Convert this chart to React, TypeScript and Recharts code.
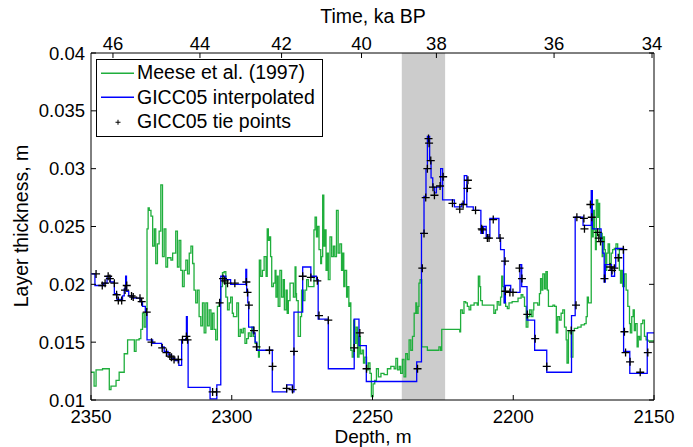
import { ComposedChart, Line, Scatter, XAxis, YAxis, ReferenceArea } from "recharts";

const DEPTH_TICKS = [2350, 2300, 2250, 2200, 2150];
const THICK_TICKS = [0.01, 0.015, 0.02, 0.025, 0.03, 0.035, 0.04];
const AGE_LABELS = ["46", "44", "42", "40", "38", "36", "34"];
const AGE_DEPTHS = [2342.2, 2311.3, 2282.3, 2253.9, 2227.3, 2185.5, 2150.7];
const SHADED_DEPTHS = [2239.6, 2224.2];

// [depth m, layer thickness m]
const MEESE: [number, number][] = [
  [2350.0, 0.0124], [2348.9, 0.0112], [2348.2, 0.0126], [2346.5, 0.0126], [2345.9, 0.0127], [2344.1, 0.0127],
  [2343.5, 0.0109], [2342.9, 0.0112], [2341.1, 0.0117], [2340.0, 0.0124], [2338.8, 0.0124], [2338.2, 0.014],
  [2337.0, 0.0152], [2335.2, 0.0152], [2334.6, 0.0142], [2334.0, 0.0152], [2332.9, 0.0153], [2332.3, 0.0161],
  [2331.7, 0.0175], [2331.1, 0.0163], [2330.5, 0.0178], [2330.1, 0.0248], [2329.7, 0.0266], [2329.3, 0.0264],
  [2328.7, 0.0259], [2328.1, 0.0233], [2327.5, 0.0248], [2327.0, 0.0218], [2326.4, 0.0235], [2325.8, 0.0246],
  [2325.2, 0.0286], [2324.6, 0.0224], [2324.0, 0.0248], [2323.4, 0.0215], [2322.8, 0.0223], [2321.6, 0.0221],
  [2321.0, 0.0227], [2319.9, 0.0246], [2319.3, 0.0215], [2318.7, 0.0238], [2318.1, 0.0212], [2317.5, 0.0198],
  [2316.9, 0.0212], [2316.3, 0.0221], [2315.7, 0.0209], [2315.1, 0.0227], [2314.5, 0.0233], [2313.9, 0.0218],
  [2313.4, 0.0195], [2312.8, 0.0184], [2312.2, 0.0195], [2311.6, 0.0172], [2311.0, 0.0164], [2310.4, 0.0184],
  [2309.8, 0.0158], [2309.2, 0.0184], [2308.6, 0.0164], [2308.0, 0.0178], [2307.4, 0.0161], [2306.9, 0.0175],
  [2306.3, 0.0161], [2305.7, 0.0152], [2305.1, 0.0181], [2304.5, 0.0184], [2303.9, 0.0198], [2303.3, 0.021],
  [2302.7, 0.0211], [2302.1, 0.0189], [2301.5, 0.0178], [2300.9, 0.0184], [2300.4, 0.0189], [2299.8, 0.0175],
  [2299.4, 0.0172], [2298.2, 0.0184], [2297.6, 0.0155], [2297.0, 0.0161], [2296.5, 0.0158], [2295.9, 0.0162],
  [2295.3, 0.0149], [2294.7, 0.0153], [2294.1, 0.0158], [2293.5, 0.0155], [2292.9, 0.0163], [2292.3, 0.0155],
  [2291.7, 0.0149], [2291.1, 0.0143], [2290.5, 0.0137], [2290.2, 0.0221], [2289.7, 0.0207], [2289.1, 0.0212],
  [2288.5, 0.0224], [2287.8, 0.0207], [2287.4, 0.0248], [2287.0, 0.0238], [2286.6, 0.0241], [2286.2, 0.0224],
  [2285.8, 0.0198], [2285.2, 0.0201], [2284.6, 0.0212], [2284.3, 0.0189], [2283.8, 0.0207], [2283.5, 0.0181],
  [2282.9, 0.0212], [2282.3, 0.0189], [2281.7, 0.0204], [2281.3, 0.0178], [2280.7, 0.0195], [2280.3, 0.0175],
  [2279.9, 0.0186], [2279.3, 0.0201], [2278.7, 0.0201], [2278.1, 0.0189], [2277.5, 0.0215], [2277.2, 0.0192],
  [2277.0, 0.0186], [2276.4, 0.0155], [2276.0, 0.0155], [2275.6, 0.0172], [2275.2, 0.0195], [2274.6, 0.0186],
  [2274.0, 0.0195], [2273.4, 0.0204], [2272.8, 0.0198], [2271.6, 0.0198], [2270.8, 0.0247], [2270.4, 0.0258],
  [2269.9, 0.0241], [2269.5, 0.025], [2269.0, 0.023], [2268.4, 0.0218], [2268.1, 0.0224], [2267.7, 0.0277],
  [2267.3, 0.0233], [2266.9, 0.0247], [2266.5, 0.0212], [2266.1, 0.0227], [2265.7, 0.0204], [2265.1, 0.0241],
  [2264.5, 0.0224], [2263.9, 0.0233], [2263.4, 0.0224], [2262.8, 0.0264], [2262.2, 0.0227], [2261.6, 0.0235],
  [2261.0, 0.0212], [2260.6, 0.0227], [2260.2, 0.0198], [2259.8, 0.0212], [2259.2, 0.0189], [2258.9, 0.0198],
  [2258.4, 0.0181], [2258.0, 0.0184], [2257.7, 0.0143], [2257.2, 0.0137], [2256.7, 0.0169], [2256.3, 0.0149],
  [2255.8, 0.0163], [2255.3, 0.0137], [2254.8, 0.0155], [2254.3, 0.014], [2253.7, 0.0143], [2253.2, 0.0132],
  [2252.7, 0.0137], [2252.1, 0.0126], [2251.5, 0.0132], [2250.9, 0.0123], [2250.4, 0.0103], [2249.8, 0.0114],
  [2249.2, 0.0117], [2248.6, 0.0127], [2247.9, 0.012], [2247.0, 0.0123], [2245.9, 0.0122], [2244.7, 0.0127],
  [2243.5, 0.0129], [2242.3, 0.0127], [2241.7, 0.0136], [2241.1, 0.0126], [2240.5, 0.0129], [2240.0, 0.0123],
  [2239.4, 0.0135], [2238.8, 0.012], [2238.2, 0.014], [2237.6, 0.0135], [2237.0, 0.0152], [2236.4, 0.0143],
  [2235.8, 0.0155], [2235.2, 0.0175], [2234.6, 0.0184], [2234.3, 0.0175], [2233.8, 0.0181], [2233.5, 0.0201],
  [2233.1, 0.0204], [2232.5, 0.0146], [2231.7, 0.0146], [2230.5, 0.0143], [2228.1, 0.0143], [2226.4, 0.0146],
  [2225.8, 0.0143], [2225.4, 0.0161], [2219.0, 0.0159], [2218.7, 0.0178], [2218.1, 0.0175], [2217.5, 0.0185],
  [2216.9, 0.0184], [2216.3, 0.0181], [2215.7, 0.0178], [2215.1, 0.0182], [2213.9, 0.0184], [2212.8, 0.0182],
  [2212.4, 0.0207], [2211.9, 0.0198], [2211.6, 0.0186], [2211.0, 0.0182], [2207.4, 0.0182], [2206.9, 0.0175],
  [2206.3, 0.0178], [2205.7, 0.0185], [2205.1, 0.0182], [2204.5, 0.0189], [2204.1, 0.0207], [2203.7, 0.0198],
  [2203.2, 0.0184], [2202.7, 0.0181], [2202.1, 0.0179], [2201.5, 0.0184], [2200.4, 0.0185], [2199.5, 0.0185],
  [2198.3, 0.0188], [2197.2, 0.0191], [2196.6, 0.0189], [2196.0, 0.0181], [2195.4, 0.0163], [2194.8, 0.0172],
  [2194.2, 0.0178], [2193.6, 0.0172], [2193.0, 0.0178], [2192.7, 0.0184], [2191.3, 0.0182], [2190.7, 0.0192],
  [2190.3, 0.0205], [2189.8, 0.0195], [2189.5, 0.0209], [2188.9, 0.0196], [2188.4, 0.0211], [2187.9, 0.0195],
  [2187.5, 0.0181], [2185.9, 0.0182], [2185.3, 0.0181], [2184.7, 0.0158], [2184.2, 0.0172], [2183.6, 0.0169],
  [2183.0, 0.0175], [2182.4, 0.0178], [2181.8, 0.0163], [2181.2, 0.0152], [2180.9, 0.0132], [2180.4, 0.016],
  [2179.8, 0.0158], [2179.4, 0.0137], [2178.8, 0.016], [2178.3, 0.0162], [2177.1, 0.0163], [2175.9, 0.0165],
  [2174.7, 0.0166], [2174.1, 0.0172], [2173.7, 0.0189], [2173.3, 0.0184], [2172.8, 0.0184], [2172.3, 0.025],
  [2172.0, 0.0241], [2171.6, 0.0264], [2171.2, 0.0247], [2170.8, 0.023], [2170.5, 0.0273], [2170.0, 0.0258],
  [2169.6, 0.027], [2169.3, 0.0241], [2168.8, 0.0244], [2168.4, 0.0224], [2168.1, 0.0241], [2167.6, 0.023],
  [2167.3, 0.0212], [2166.8, 0.0227], [2166.3, 0.0235], [2165.8, 0.0218], [2165.2, 0.0227], [2164.7, 0.023],
  [2164.1, 0.0231], [2163.5, 0.0235], [2162.9, 0.023], [2162.3, 0.0212], [2161.9, 0.0201], [2161.5, 0.0212],
  [2161.1, 0.0198], [2160.5, 0.0209], [2159.9, 0.0195], [2159.3, 0.0181], [2158.7, 0.0166], [2158.4, 0.0158],
  [2157.9, 0.0172], [2157.4, 0.0178], [2157.0, 0.016], [2156.6, 0.0166], [2156.0, 0.0146], [2155.6, 0.0155],
  [2155.1, 0.0152], [2154.6, 0.0166], [2154.0, 0.0169], [2153.4, 0.0155], [2152.8, 0.0152], [2152.2, 0.0151],
  [2150.0, 0.0151],
];

const GICC05: [number, number][] = [
  [2350.0, 0.0209], [2348.6, 0.0199], [2345.5, 0.0201], [2344.3, 0.0207], [2343.1, 0.0202], [2341.7, 0.0192],
  [2340.8, 0.0187], [2338.8, 0.019], [2338.2, 0.0196], [2337.7, 0.0207], [2337.4, 0.0194], [2336.6, 0.019],
  [2335.2, 0.0188], [2332.5, 0.0185], [2331.7, 0.0181], [2330.7, 0.0176], [2330.1, 0.0152], [2328.1, 0.0149],
  [2324.9, 0.0146], [2324.0, 0.0142], [2322.6, 0.0139], [2321.4, 0.0136], [2320.2, 0.0134], [2318.8, 0.013],
  [2317.8, 0.0152], [2316.4, 0.0153], [2316.1, 0.0172], [2315.8, 0.0152], [2315.5, 0.0111], [2307.7, 0.0101],
  [2305.3, 0.0113], [2303.9, 0.0207], [2302.1, 0.0204], [2300.4, 0.02], [2295.0, 0.0213], [2294.7, 0.0194],
  [2294.3, 0.0184], [2294.0, 0.0163], [2292.4, 0.0158], [2291.7, 0.015], [2291.1, 0.0143], [2285.6, 0.0107],
  [2280.5, 0.0113], [2278.5, 0.0107], [2277.9, 0.0176], [2274.8, 0.0215], [2271.9, 0.0207], [2269.9, 0.0204],
  [2269.3, 0.017], [2265.7, 0.0127], [2256.5, 0.017], [2254.8, 0.0147], [2252.2, 0.0116], [2234.3, 0.0133],
  [2232.6, 0.0244], [2231.7, 0.0276], [2231.0, 0.03], [2230.5, 0.0328], [2229.7, 0.0307], [2229.2, 0.0292],
  [2228.6, 0.0284], [2228.0, 0.0279], [2227.3, 0.0284], [2225.8, 0.03], [2225.1, 0.0273], [2220.9, 0.0267],
  [2218.3, 0.027], [2217.4, 0.0294], [2216.5, 0.0267], [2214.2, 0.0264], [2211.5, 0.0244], [2210.6, 0.025],
  [2209.6, 0.0241], [2208.3, 0.0257], [2205.1, 0.024], [2204.5, 0.023], [2203.2, 0.0184], [2202.8, 0.0199],
  [2200.9, 0.0193], [2197.6, 0.0217], [2197.0, 0.0198], [2195.1, 0.0169], [2192.4, 0.0143], [2188.1, 0.0124],
  [2179.3, 0.0173], [2178.0, 0.0258], [2175.2, 0.0251], [2172.3, 0.0281], [2171.9, 0.0248], [2168.8, 0.0237],
  [2168.2, 0.0227], [2167.7, 0.0202], [2167.3, 0.0217], [2165.1, 0.0207], [2164.0, 0.0215], [2163.6, 0.0231],
  [2160.8, 0.0142], [2158.6, 0.0123], [2152.4, 0.0158], [2150.0, 0.0158],
];

const TIE_POINTS: [number, number][] = [
  [2348.2, 0.0209], [2346.0, 0.0199], [2345.0, 0.0201], [2343.9, 0.0207], [2343.3, 0.0205], [2341.7, 0.0201],
  [2340.9, 0.0191], [2340.3, 0.0186], [2339.1, 0.0186], [2337.9, 0.0195], [2337.3, 0.0199], [2335.6, 0.019],
  [2335.0, 0.0189], [2332.6, 0.0188], [2332.0, 0.0185], [2330.2, 0.0176], [2328.5, 0.015], [2324.7, 0.0145],
  [2323.2, 0.0141], [2322.0, 0.0138], [2321.4, 0.0137], [2320.5, 0.0135], [2319.0, 0.0135], [2317.5, 0.0152],
  [2316.1, 0.0155], [2315.7, 0.0152], [2306.8, 0.0107], [2305.4, 0.0107], [2304.3, 0.0184], [2303.1, 0.0205],
  [2302.5, 0.0203], [2301.5, 0.0201], [2298.9, 0.0201], [2294.8, 0.0202], [2294.4, 0.0193], [2293.9, 0.0182],
  [2292.1, 0.016], [2291.2, 0.0146], [2286.6, 0.0143], [2285.5, 0.0129], [2280.5, 0.011], [2278.4, 0.0109],
  [2277.9, 0.0142], [2274.8, 0.0207], [2271.9, 0.0206], [2269.6, 0.0203], [2269.0, 0.0173], [2265.7, 0.0169],
  [2256.5, 0.0145], [2254.5, 0.0158], [2252.1, 0.0127], [2234.0, 0.0127], [2232.3, 0.0214], [2231.7, 0.0244],
  [2231.1, 0.0275], [2230.5, 0.03], [2230.1, 0.0326], [2229.9, 0.0322], [2229.3, 0.0307], [2228.5, 0.0284],
  [2228.0, 0.0277], [2226.0, 0.0285], [2224.9, 0.0293], [2221.6, 0.027], [2219.0, 0.0265], [2217.8, 0.0269],
  [2216.3, 0.0283], [2216.1, 0.029], [2213.4, 0.0264], [2211.2, 0.0248], [2211.0, 0.0247], [2209.2, 0.024],
  [2208.6, 0.024], [2207.1, 0.0256], [2204.7, 0.024], [2202.9, 0.022], [2202.8, 0.0194], [2201.2, 0.0193],
  [2200.1, 0.0193], [2197.8, 0.0214], [2196.9, 0.0205], [2195.0, 0.0174], [2192.2, 0.0153], [2188.1, 0.0129],
  [2179.4, 0.016], [2177.7, 0.0182], [2177.4, 0.0258], [2174.9, 0.0257], [2174.7, 0.0248], [2172.6, 0.0269],
  [2172.1, 0.0258], [2170.0, 0.0245], [2169.6, 0.024], [2169.0, 0.0237], [2167.6, 0.0205], [2165.6, 0.0215],
  [2164.9, 0.0212], [2164.1, 0.0214], [2162.7, 0.0223], [2160.9, 0.023], [2160.5, 0.0159], [2160.1, 0.0141],
  [2158.5, 0.0133], [2154.9, 0.0124], [2152.2, 0.0141],
];

const FONT = "'Liberation Sans', Arial, Helvetica, sans-serif";
const GREEN = "#1fae3c";
const BLUE = "#0000ff";

const toRows = (pairs: [number, number][]) => pairs.map(([d, v]) => ({ d, v }));

const PlusMark = (props: any) => {
  const { cx, cy } = props;
  if (cx == null || cy == null) return null;
  return <path d={`M${cx - 4},${cy}H${cx + 4}M${cx},${cy - 4}V${cy + 4}`} stroke="#000" strokeWidth={1.3} fill="none" />;
};

const tickStyle = { fontSize: 18.5, fill: "#000", fontFamily: FONT };
const titleStyle = { position: "absolute" as const, fontSize: 19.5, whiteSpace: "nowrap" as const, lineHeight: 1 };

export default function App() {
  return (
    <div style={{ position: "absolute", left: 0, top: 0, width: 693, height: 447, background: "#fff", fontFamily: FONT }}>
      <ComposedChart width={693} height={447} margin={{ top: 0, right: 38, bottom: 0, left: 0 }}>
        <XAxis
          xAxisId="depth" dataKey="d" type="number" domain={[2150, 2350]} reversed allowDataOverflow
          ticks={DEPTH_TICKS} interval={0} height={47} tickSize={-5} tickMargin={15}
          stroke="#000" tick={tickStyle}
        />
        {/* time scale on top: same depth scale, ticks placed at the depths of each age */}
        <XAxis
          xAxisId="age" dataKey="d" orientation="top" type="number" domain={[2150, 2350]} reversed allowDataOverflow
          ticks={AGE_DEPTHS} interval={0} height={53} tickSize={-5} tickMargin={8}
          tickFormatter={(_v: number, i: number) => AGE_LABELS[i]}
          stroke="#000" tick={tickStyle}
        />
        <YAxis
          yAxisId="thick" type="number" domain={[0.01, 0.04]} allowDataOverflow
          ticks={THICK_TICKS} interval={0} width={91} tickSize={-5} tickMargin={11}
          tickFormatter={(v: number) => String(Number(v.toFixed(3)))}
          stroke="#000" tick={tickStyle}
        />
        <YAxis
          yAxisId="frame" orientation="right" type="number" domain={[0.01, 0.04]} allowDataOverflow
          ticks={THICK_TICKS} interval={0} width={1} tickSize={-5} tickFormatter={() => ""}
          stroke="#000" tick={tickStyle}
        />
        <ReferenceArea
          xAxisId="depth" yAxisId="thick" x1={SHADED_DEPTHS[0]} x2={SHADED_DEPTHS[1]} y1={0.01} y2={0.04}
          fill="#cccccc" fillOpacity={1} stroke="none"
        />
        <Line
          xAxisId="depth" yAxisId="thick" data={toRows(MEESE)} dataKey="v" type="stepAfter"
          stroke={GREEN} strokeWidth={1.3} dot={false} isAnimationActive={false}
        />
        <Line
          xAxisId="depth" yAxisId="thick" data={toRows(GICC05)} dataKey="v" type="stepAfter"
          stroke={BLUE} strokeWidth={1.3} dot={false} isAnimationActive={false}
        />
        <Scatter
          xAxisId="age" yAxisId="thick" data={toRows(TIE_POINTS)} dataKey="v"
          shape={PlusMark} isAnimationActive={false}
        />
      </ComposedChart>

      <div style={{ ...titleStyle, left: 373, top: 17, transform: "translate(-50%, -50%)" }}>Time, ka BP</div>
      <div style={{ ...titleStyle, left: 373, top: 436, fontSize: 19, transform: "translate(-50%, -50%)" }}>Depth, m</div>
      <div style={{ ...titleStyle, left: 22, top: 226, transform: "translate(-50%, -50%) rotate(-90deg)" }}>
        Layer thickness, m
      </div>

      <div style={{ position: "absolute", left: 96, top: 59, width: 225, height: 76, border: "1px solid #000", background: "#fff", fontSize: 19.5, lineHeight: 1 }}>
        {[
          { label: "Meese et al. (1997)", color: GREEN, kind: "line" },
          { label: "GICC05 interpolated", color: BLUE, kind: "line" },
          { label: "GICC05 tie points", color: "#000", kind: "plus" },
        ].map((item, i) => (
          <div key={item.label} style={{ position: "absolute", left: 0, top: 13 + i * 24.5, transform: "translateY(-50%)", display: "flex", alignItems: "center", whiteSpace: "nowrap" }}>
            <svg width={40} height={10} style={{ display: "block" }}>
              {item.kind === "line" ? (
                <line x1={4} x2={37} y1={5} y2={5} stroke={item.color} strokeWidth={1.3} />
              ) : (
                <path d="M18.5,5H23.5M21,2.5V7.5" stroke="#000" strokeWidth={1} />
              )}
            </svg>
            <span>{item.label}</span>
          </div>
        ))}
      </div>
    </div>
  );
}
